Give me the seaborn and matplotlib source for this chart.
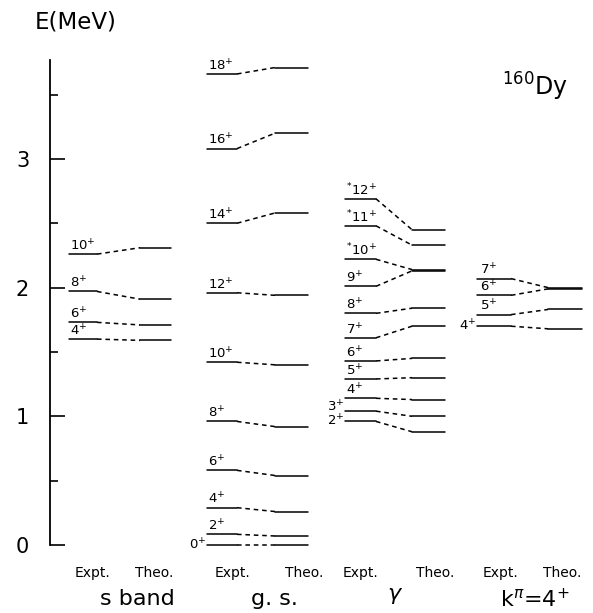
import numpy as np
import pandas as pd
import seaborn as sns
import matplotlib
matplotlib.use("Agg")
import matplotlib.pyplot as plt

# level energies (MeV), Expt. vs Theo.
s_spins = [4, 6, 8, 10]
s_expt = [1.60, 1.73, 1.97, 2.26]
s_theo = [1.59, 1.71, 1.91, 2.31]

gs_spins = [0, 2, 4, 6, 8, 10, 12, 14, 16, 18]
gs_expt = [0.0, 0.083, 0.29, 0.58, 0.96, 1.42, 1.96, 2.50, 3.08, 3.66]
gs_theo = [0.0, 0.07, 0.26, 0.54, 0.92, 1.40, 1.94, 2.58, 3.20, 3.71]

gam_spins = [2, 3, 4, 5, 6, 7, 8, 9, 10, 11, 12]
gam_expt = [0.96, 1.04, 1.14, 1.29, 1.43, 1.61, 1.80, 2.01, 2.22, 2.48, 2.69]
gam_theo = [0.88, 1.00, 1.13, 1.30, 1.45, 1.70, 1.84, 2.13, 2.14, 2.33, 2.45]

k4_spins = [4, 5, 6, 7]
k4_expt = [1.70, 1.79, 1.94, 2.07]
k4_theo = [1.68, 1.83, 1.99, 2.00]

y_ticks = [0, 1, 2, 3]
y_minor = [0.5, 1.5, 2.5, 3.5]

# column layout (x in figure pixels): expt start/end, theo start/end
bands = {
    "s": (s_spins, s_expt, s_theo, (69, 97), (140, 171)),
    "gs": (gs_spins, gs_expt, gs_theo, (207, 237), (275, 308)),
    "gam": (gam_spins, gam_expt, gam_theo, (345, 376), (412, 445)),
    "k4": (k4_spins, k4_expt, k4_theo, (477, 511), (548, 582)),
}

px = 1 / 128.7  # MeV per pixel

rows = []
seg = 0
for name, (spins, ex, th, xe, xt) in bands.items():
    for j, e, t in zip(spins, ex, th):
        for x0, x1, y0, y1, kind in [(xe[0], xe[1], e, e, "level"),
                                     (xt[0], xt[1], t, t, "level"),
                                     (xe[1], xt[0], e, t, "link")]:
            rows.append({"x": x0, "E": y0, "seg": seg, "kind": kind})
            rows.append({"x": x1, "E": y1, "seg": seg, "kind": kind})
            seg += 1
df = pd.DataFrame(rows)

sns.set_theme(style="ticks")
plt.rcParams["font.family"] = ["DejaVu Sans"]
plt.rcParams["text.color"] = "black"

fig = plt.figure(figsize=(5.93, 6.13), dpi=100)
ax = fig.add_axes([0, 0, 1, 1])

sns.lineplot(data=df, x="x", y="E", units="seg", estimator=None, sort=False,
             style="kind", dashes={"level": "", "link": (3, 2.5)},
             color="black", lw=1.1, legend=False, ax=ax)

ax.set_xlim(0, 593)
ax.set_ylim(-68 * px, 545 * px)
ax.set_xlabel("")
ax.set_ylabel("")
ax.set_xticks([])
for side in ["top", "right", "bottom"]:
    ax.spines[side].set_visible(False)
ax.spines["left"].set_position(("data", 50))
ax.spines["left"].set_bounds(0, 3.77)
ax.spines["left"].set_color("black")
ax.spines["left"].set_linewidth(1.3)
ax.set_yticks(y_ticks)
ax.set_yticklabels([str(v) for v in y_ticks])
ax.set_yticks(y_minor, minor=True)
ax.tick_params(axis="y", which="major", left=True, direction="in", length=11,
               width=1.2, pad=15, labelsize=15, colors="black")
ax.tick_params(axis="y", which="minor", left=True, direction="in", length=6,
               width=1.2, colors="black")
ax.tick_params(axis="x", bottom=False)

# spin labels
lab_fs = 9.5
special = {("gs", 0), ("gam", 2), ("gam", 3), ("k4", 4)}
for name, (spins, ex, th, xe, xt) in bands.items():
    for j, e in zip(spins, ex):
        txt = f"{j}$^{{+}}$"
        if name == "gam" and j >= 10:
            txt = f"$^{{*}}${j}$^{{+}}$"
        if (name, j) in special:
            dy = 0.03 if (name, j) == ("gam", 3) else 0.0
            ax.text(xe[0] - 1, e + dy, txt, ha="right", va="center",
                    fontsize=lab_fs)
        else:
            dx = 3 if name == "k4" else 1
            ax.text(xe[0] + dx, e + 0.005, txt, ha="left", va="bottom",
                    fontsize=lab_fs)

# titles and column captions
ax.text(76, 4.064, "E(MeV)", ha="center", va="center", fontsize=16.5)
ax.text(535, 3.56, r"$^{160}$Dy", ha="center", va="center", fontsize=17)

cap_y = (545 - 573) * px
for xc, t in [(92, "Expt."), (154, "Theo."), (233, "Expt."), (304, "Theo."),
              (361, "Expt."), (435, "Theo."), (500, "Expt."), (562, "Theo.")]:
    ax.text(xc, cap_y, t, ha="center", va="center", fontsize=10)

band_y = (545 - 599) * px
ax.text(137, band_y, "s band", ha="center", va="center", fontsize=16)
ax.text(274, band_y, "g. s.", ha="center", va="center", fontsize=16)
ax.text(395, band_y + 0.02, r"$\gamma$", ha="center", va="center", fontsize=16)
ax.text(535, band_y, r"k$^{\pi}$=4$^{+}$", ha="center", va="center",
        fontsize=16)

fig.savefig("out.png", dpi=100)
